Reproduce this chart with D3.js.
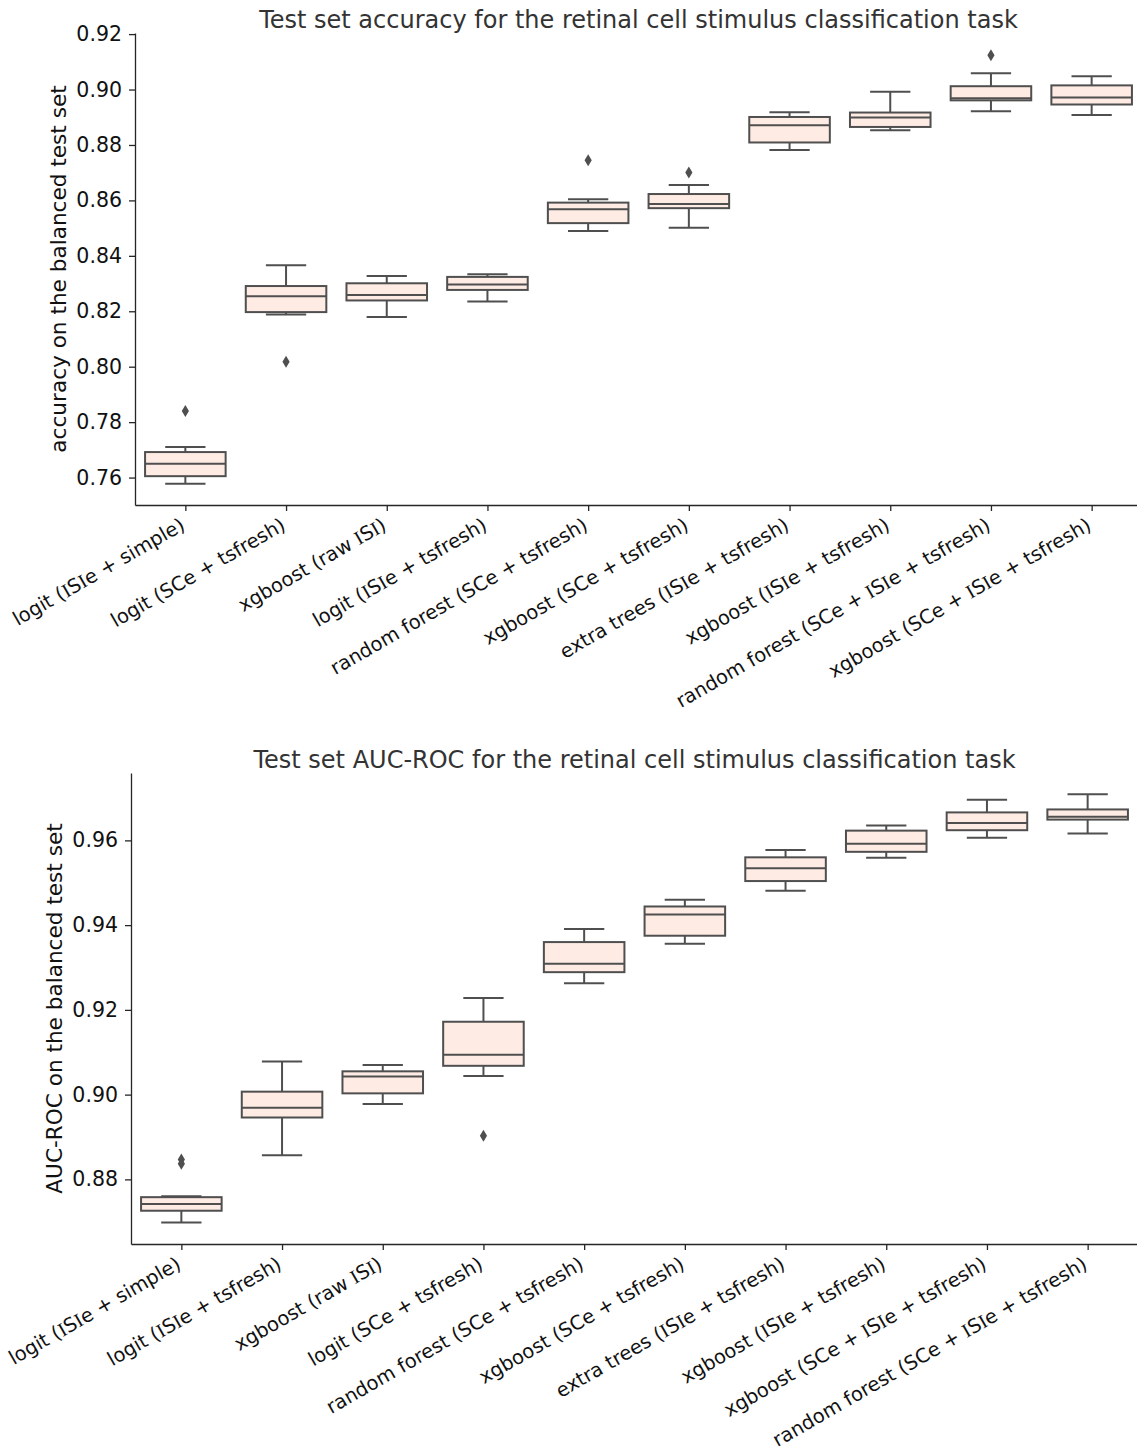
<!DOCTYPE html>
<html>
<head>
<meta charset="utf-8">
<script src="https://cdn.jsdelivr.net/npm/d3@7"></script>
<style>
  body { margin: 0; background: #fff; }
  text { font-family: "DejaVu Sans", sans-serif; }
</style>
</head>
<body>
<script>
// data

// top panel: accuracy
let accCategories = [
    "logit (ISIe + simple)", "logit (SCe + tsfresh)", "xgboost (raw ISI)",
    "logit (ISIe + tsfresh)", "random forest (SCe + tsfresh)", "xgboost (SCe + tsfresh)",
    "extra trees (ISIe + tsfresh)", "xgboost (ISIe + tsfresh)",
    "random forest (SCe + ISIe + tsfresh)", "xgboost (SCe + ISIe + tsfresh)"
];
let accWhiskLo = [0.7578, 0.8188, 0.8179, 0.8235, 0.8490, 0.8501, 0.8782, 0.8853, 0.8922, 0.8908];
let accQ1      = [0.7605, 0.8197, 0.8239, 0.8277, 0.8518, 0.8572, 0.8809, 0.8865, 0.8961, 0.8946];
let accMedian  = [0.7650, 0.8254, 0.8259, 0.8297, 0.8568, 0.8587, 0.8871, 0.8899, 0.8969, 0.8971];
let accQ3      = [0.7692, 0.8291, 0.8301, 0.8324, 0.8592, 0.8623, 0.8901, 0.8917, 0.9012, 0.9015];
let accWhiskHi = [0.7710, 0.8366, 0.8327, 0.8334, 0.8604, 0.8656, 0.8918, 0.8992, 0.9059, 0.9048];
let accOutliers = [[0.7840], [0.8018], [], [], [0.8745], [0.8701], [], [], [0.9124], []];
let accTicks = [0.76, 0.78, 0.80, 0.82, 0.84, 0.86, 0.88, 0.90, 0.92];

// bottom panel: AUC-ROC
let aucCategories = [
    "logit (ISIe + simple)", "logit (ISIe + tsfresh)", "xgboost (raw ISI)",
    "logit (SCe + tsfresh)", "random forest (SCe + tsfresh)", "xgboost (SCe + tsfresh)",
    "extra trees (ISIe + tsfresh)", "xgboost (ISIe + tsfresh)",
    "xgboost (SCe + ISIe + tsfresh)", "random forest (SCe + ISIe + tsfresh)"
];
let aucWhiskLo = [0.8698, 0.8857, 0.8978, 0.9044, 0.9263, 0.9356, 0.9481, 0.9559, 0.9606, 0.9616];
let aucQ1      = [0.8726, 0.8946, 0.9003, 0.9068, 0.9289, 0.9375, 0.9504, 0.9573, 0.9624, 0.9649];
let aucMedian  = [0.8742, 0.8969, 0.9043, 0.9094, 0.9309, 0.9425, 0.9534, 0.9592, 0.9641, 0.9656];
let aucQ3      = [0.8758, 0.9007, 0.9055, 0.9172, 0.9360, 0.9444, 0.9560, 0.9623, 0.9666, 0.9673];
let aucWhiskHi = [0.8760, 0.9078, 0.9070, 0.9228, 0.9391, 0.9460, 0.9577, 0.9635, 0.9696, 0.9709];
let aucOutliers = [[0.8847, 0.8837], [], [], [0.8903], [], [], [], [], [], []];
let aucTicks = [0.88, 0.90, 0.92, 0.94, 0.96];

let svgWidth = 1137;
let svgHeight = 1448;

let boxFill = "#feebe4";
let lineColor = "#4f4f4f";
let inkColor = "#262626";

let svg = d3.select("body")
    .append("svg")
    .attr("width", svgWidth)
    .attr("height", svgHeight);

// put serif I's in the ISIe / ISI bits like the original
function addLabel(textSel, label) {
    let parts = label.split(/(ISI)/);
    parts.forEach(p => {
        if (p === "ISI") {
            textSel.append("tspan").attr("font-family", "Liberation Serif").text("I");
            textSel.append("tspan").text("S");
            textSel.append("tspan").attr("font-family", "Liberation Serif").text("I");
        } else if (p.length) {
            textSel.append("tspan").text(p);
        }
    });
}

function drawPanel(opt) {
    let g = svg.append("g");

    let x = d3.scalePoint()
        .domain(opt.categories)
        .range([opt.left, opt.right])
        .padding(0.5);

    let y = d3.scaleLinear()
        .domain(opt.domain)
        .range([opt.bottom, opt.top]);

    let boxW = x.step() * 0.8;
    let capW = boxW / 2;

    let rows = opt.categories.map((c, i) => ({
        cat: c,
        lo: opt.lo[i], q1: opt.q1[i], med: opt.med[i], q3: opt.q3[i], hi: opt.hi[i],
        out: opt.out[i]
    }));

    // axes
    let leftAxis = d3.axisLeft(y)
        .tickValues(opt.ticks)
        .tickFormat(d3.format(".2f"))
        .tickSize(6)
        .tickSizeOuter(0)
        .tickPadding(7);

    let yAxisG = g.append("g")
        .attr("transform", `translate(${opt.left}, 0)`)
        .call(leftAxis);
    yAxisG.selectAll("text")
        .attr("font-size", 20.5)
        .attr("font-family", "DejaVu Sans")
        .attr("fill", "#111");

    let bottomAxis = d3.axisBottom(x)
        .tickSize(6)
        .tickSizeOuter(0)
        .tickFormat("");

    let xAxisG = g.append("g")
        .attr("transform", `translate(0, ${opt.bottom})`)
        .call(bottomAxis);

    xAxisG.selectAll(".tick").each(function(d) {
        let t = d3.select(this).append("text")
            .attr("fill", "#111")
            .attr("font-size", 19.5)
            .attr("font-family", "DejaVu Sans")
            .attr("text-anchor", "end")
            .attr("dy", "0.76em")
            .attr("transform", "translate(-7, 11) rotate(-30)");
        addLabel(t, d);
    });

    g.selectAll(".domain, .tick line")
        .attr("stroke", inkColor)
        .attr("stroke-width", 1.3);

    // whiskers
    let boxes = g.append("g").selectAll("g")
        .data(rows)
        .enter()
        .append("g");

    boxes.append("line")
        .attr("x1", d => x(d.cat)).attr("x2", d => x(d.cat))
        .attr("y1", d => y(d.lo)).attr("y2", d => y(d.q1))
        .attr("stroke", lineColor).attr("stroke-width", 2);
    boxes.append("line")
        .attr("x1", d => x(d.cat)).attr("x2", d => x(d.cat))
        .attr("y1", d => y(d.q3)).attr("y2", d => y(d.hi))
        .attr("stroke", lineColor).attr("stroke-width", 2);
    boxes.append("line")
        .attr("x1", d => x(d.cat) - capW / 2).attr("x2", d => x(d.cat) + capW / 2)
        .attr("y1", d => y(d.lo)).attr("y2", d => y(d.lo))
        .attr("stroke", lineColor).attr("stroke-width", 2);
    boxes.append("line")
        .attr("x1", d => x(d.cat) - capW / 2).attr("x2", d => x(d.cat) + capW / 2)
        .attr("y1", d => y(d.hi)).attr("y2", d => y(d.hi))
        .attr("stroke", lineColor).attr("stroke-width", 2);

    // box + median
    boxes.append("rect")
        .attr("x", d => x(d.cat) - boxW / 2)
        .attr("width", boxW)
        .attr("y", d => y(d.q3))
        .attr("height", d => y(d.q1) - y(d.q3))
        .attr("fill", boxFill)
        .attr("stroke", lineColor)
        .attr("stroke-width", 2);
    boxes.append("line")
        .attr("x1", d => x(d.cat) - boxW / 2).attr("x2", d => x(d.cat) + boxW / 2)
        .attr("y1", d => y(d.med)).attr("y2", d => y(d.med))
        .attr("stroke", lineColor).attr("stroke-width", 2);

    // outliers, thin diamonds
    boxes.selectAll("path")
        .data(d => d.out.map(v => ({cat: d.cat, v: v})))
        .enter()
        .append("path")
        .attr("d", "M0,-6L3.6,0L0,6L-3.6,0Z")
        .attr("transform", d => `translate(${x(d.cat)}, ${y(d.v)})`)
        .attr("fill", lineColor);

    // title + y label
    g.append("text")
        .attr("x", (opt.left + opt.right) / 2)
        .attr("y", opt.titleY)
        .attr("text-anchor", "middle")
        .attr("font-size", 24)
        .attr("fill", "#333")
        .text(opt.title);

    g.append("text")
        .attr("transform", `translate(${opt.ylabelX}, ${(opt.top + opt.bottom) / 2}) rotate(-90)`)
        .attr("text-anchor", "middle")
        .attr("font-size", 21.6)
        .attr("fill", "#111")
        .text(opt.ylabel);
}

drawPanel({
    categories: accCategories,
    lo: accWhiskLo, q1: accQ1, med: accMedian, q3: accQ3, hi: accWhiskHi, out: accOutliers,
    ticks: accTicks,
    domain: [0.7501, 0.9204],
    left: 135, right: 1142, top: 33, bottom: 505,
    title: "Test set accuracy for the retinal cell stimulus classification task",
    titleY: 28,
    ylabel: "accuracy on the balanced test set",
    ylabelX: 66
});

drawPanel({
    categories: aucCategories,
    lo: aucWhiskLo, q1: aucQ1, med: aucMedian, q3: aucQ3, hi: aucWhiskHi, out: aucOutliers,
    ticks: aucTicks,
    domain: [0.86475, 0.9759],
    left: 131, right: 1138, top: 773, bottom: 1244,
    title: "Test set AUC-ROC for the retinal cell stimulus classification task",
    titleY: 768,
    ylabel: "AUC-ROC on the balanced test set",
    ylabelX: 62
});
</script>
</body>
</html>
